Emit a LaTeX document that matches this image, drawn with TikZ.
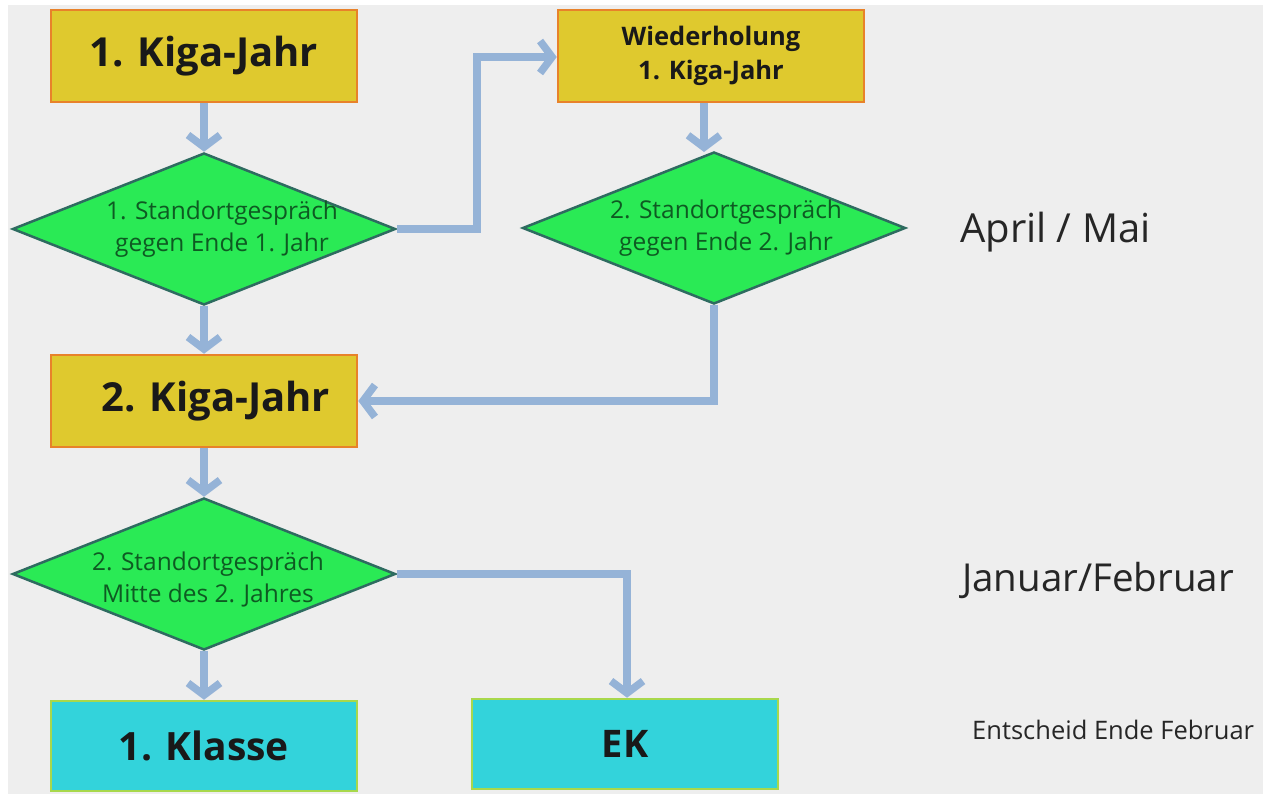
\documentclass[tikz,border=0pt]{standalone}
\usepackage{fontspec}
\setmainfont{Open Sans}
\usetikzlibrary{shapes.geometric,arrows.meta}
\definecolor{bggray}{HTML}{EEEEEE}
\definecolor{boxyellow}{HTML}{DFC92E}
\definecolor{boxorange}{HTML}{E8822A}
\definecolor{diagreen}{HTML}{2AEA55}
\definecolor{diaborder}{HTML}{2E6B60}
\definecolor{diatext}{HTML}{0E5A22}
\definecolor{boxcyan}{HTML}{33D3DB}
\definecolor{cyanborder}{HTML}{A8D84C}
\definecolor{arrowblue}{HTML}{95B3D7}
\tikzset{
  yellowbox/.style={draw=boxorange, fill=boxyellow, line width=2.5pt, minimum width=306pt, minimum height=92pt, inner sep=0pt, font=\bfseries, text=black!90},
  cyanbox/.style={draw=cyanborder, fill=boxcyan, line width=2.5pt, minimum width=306pt, minimum height=90pt, inner sep=0pt, font=\bfseries, text=black!90},
  decision/.style={diamond, draw=diaborder, fill=diagreen, line width=2.5pt, minimum width=383pt, minimum height=152pt, inner sep=0pt, aspect=2.52},
  dtext/.style={align=center, text=diatext, font=\fontsize{24.5}{32}\selectfont, inner sep=0pt},
  sidetext/.style={anchor=west, inner sep=0pt, text=black!85},
  flow/.style={draw=arrowblue, line width=7.5pt, -{Straight Barb[length=12pt,width=32pt]}}
}
\begin{document}
\begin{tikzpicture}[x=1pt,y=-1pt]
\useasboundingbox (0,0) rectangle (1263,794);
\fill[white] (0,0) rectangle (1263,794);
\fill[bggray] (8,5) rectangle (1263,794);

% nodes
\node[yellowbox, font=\bfseries\fontsize{40}{44}\selectfont] (k1) at (204,56) {1. Kiga-Jahr};
\node[yellowbox, font=\bfseries\fontsize{25.5}{34}\selectfont, align=center] (w1) at (711,56) {Wiederholung\\1. Kiga-Jahr};
\node[decision] (d1) at (204,229) {};
\node[dtext] (t1) at (222,229) {1. Standortgespräch\\gegen Ende 1. Jahr};
\node[decision] (d2) at (714,228) {};
\node[dtext] (t2) at (726,228) {2. Standortgespräch\\gegen Ende 2. Jahr};
\node[yellowbox, font=\bfseries\fontsize{40}{44}\selectfont] (k2) at (204,401) {\hspace*{24pt}2. Kiga-Jahr};
\node[decision] (d3) at (204,574) {};
\node[dtext] (t3) at (208,579) {2. Standortgespräch\\Mitte des 2. Jahres};
\node[cyanbox, font=\bfseries\fontsize{39}{42}\selectfont] (c1) at (204,746) {1. Klasse};
\node[cyanbox, font=\bfseries\fontsize{38}{42}\selectfont] (ek) at (625,744) {EK};

\node[sidetext, font=\fontsize{40}{44}\selectfont] (s1) at (960,232) {April / Mai};
\node[sidetext, font=\fontsize{38.5}{42}\selectfont] (s2) at (962,580) {Januar/Februar};
\node[sidetext, font=\fontsize{25.5}{28}\selectfont] (s3) at (972,730) {Entscheid Ende Februar};

% connectors
\draw[flow] (k1.south) -- (d1.north);
\draw[flow] (d1.east) -- (477,229) -- (477,57) -- (w1.west |- 0,57);
\draw[flow] (w1.south -| 704,0) -- (704,152);
\draw[flow] (d1.south) -- (k2.north);
\draw[flow] (d2.south) -- (714,401) -- (k2.east);
\draw[flow] (k2.south) -- (d3.north);
\draw[flow] (d3.south) -- (c1.north);
\draw[flow] (d3.east) -- (627,574) -- (ek.north -| 627,0);
\end{tikzpicture}
\end{document}
